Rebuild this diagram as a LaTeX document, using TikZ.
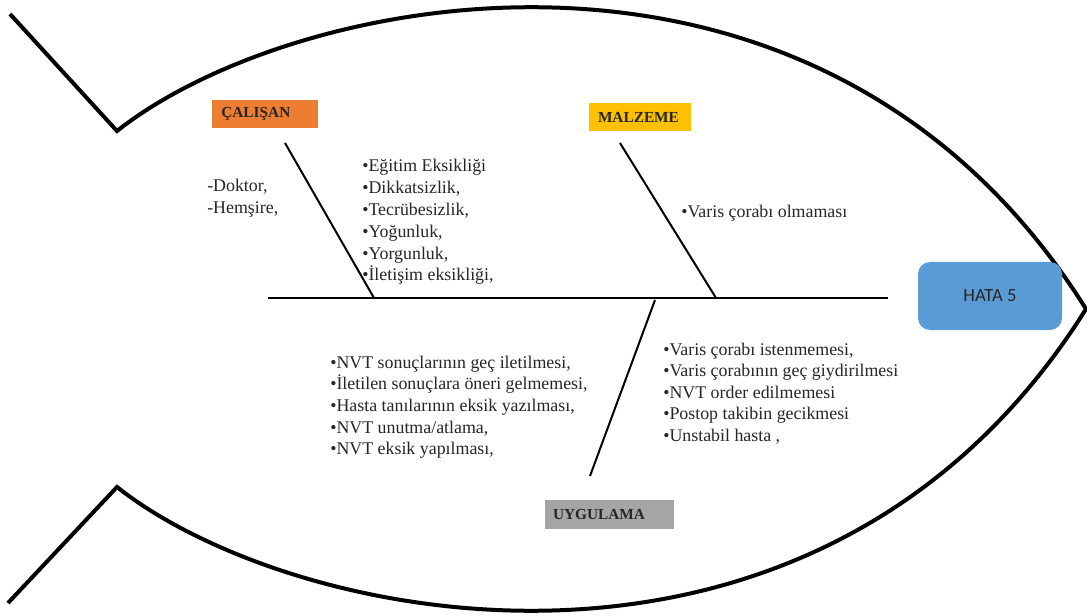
\documentclass[tikz,border=0pt]{standalone}
\usepackage{fontspec}
\setmainfont{Liberation Serif}
\newfontfamily\headsans{Carlito}
\definecolor{catorange}{HTML}{ED7D31}
\definecolor{catyellow}{HTML}{FFC000}
\definecolor{catgray}{HTML}{A5A5A5}
\definecolor{headblue}{HTML}{5B9BD5}
\begin{document}
\begin{tikzpicture}[x=0.75pt,y=-0.75pt,
  outline/.style={line width=3pt, line join=miter},
  bone/.style={line width=1.5pt},
  catbox/.style={minimum height=21pt, inner xsep=7pt, inner ysep=0pt,
    align=left, font=\bfseries\fontsize{11.5}{13}\selectfont, text=black!85},
  item/.style={anchor=base west, inner sep=0pt,
    font=\fontsize{13.4}{15}\selectfont, text=black!85},
]
\useasboundingbox (0,0) rectangle (1087,616);

% fish body: tail, upper and lower arcs meeting at the nose
\draw[outline] (10,14) -- (117,131)
  .. controls (295,-10) and (820,-115) .. (1086,309)
  .. controls (820,733) and (295,628) .. (117,487) -- (8,603);

% head
\node[fill=headblue, rounded corners=9pt, minimum width=108pt, minimum height=51pt,
  font=\headsans\fontsize{14}{16}\selectfont, text=black!85] (hata) at (990,296) {HATA 5};

% category boxes
\node[catbox, fill=catorange, text width=65.5pt] (calisan) at (265,114) {ÇALIŞAN};
\node[catbox, fill=catyellow, text width=63pt, inner xsep=6.75pt] (malzeme) at (640,117) {MALZEME};
\node[catbox, fill=catgray, text width=84.75pt, inner xsep=6pt, minimum height=21.75pt] (uygulama) at (609.5,514.5) {UYGULAMA};

% cause lists
\foreach \t [count=\i] in {{-Doktor,},{-Hemşire,}}
  \node[item] (per\i) at (207,{192+21.8*(\i-1)}) {\t};
\foreach \t [count=\i] in {{•Eğitim Eksikliği},{•Dikkatsizlik,},{•Tecrübesizlik,},
    {•Yoğunluk,},{•Yorgunluk,},{•İletişim eksikliği,}}
  \node[item] (cal\i) at (362,{172+21.8*(\i-1)}) {\t};
\node[item] (mal1) at (681,218) {•Varis çorabı olmaması};
\foreach \t [count=\i] in {{•NVT sonuçlarının geç iletilmesi,},{•İletilen sonuçlara öneri gelmemesi,},
    {•Hasta tanılarının eksik yazılması,},{•NVT unutma/atlama,},{•NVT eksik yapılması,}}
  \node[item] (uyA\i) at (330,{368+21.7*(\i-1)}) {\t};
\foreach \t [count=\i] in {{•Varis çorabı istenmemesi,},{•Varis çorabının geç giydirilmesi},
    {•NVT order edilmemesi},{•Postop takibin gecikmesi},{•Unstabil hasta ,}}
  \node[item] (uyB\i) at (663,{355+21.6*(\i-1)}) {\t};

% spine and bones
\coordinate (spL) at (268,298);
\coordinate (spR) at (888,298);
\coordinate (b1t) at (285,143);
\coordinate (b1b) at (374,298);
\coordinate (b2t) at (620,143);
\coordinate (b2b) at (716,298);
\coordinate (b3t) at (655,300);
\coordinate (b3b) at (590,476);
\draw[bone] (spL) -- (spR);
\draw[bone] (b1t) -- (b1b);
\draw[bone] (b2t) -- (b2b);
\draw[bone] (b3t) -- (b3b);
\end{tikzpicture}
\end{document}
